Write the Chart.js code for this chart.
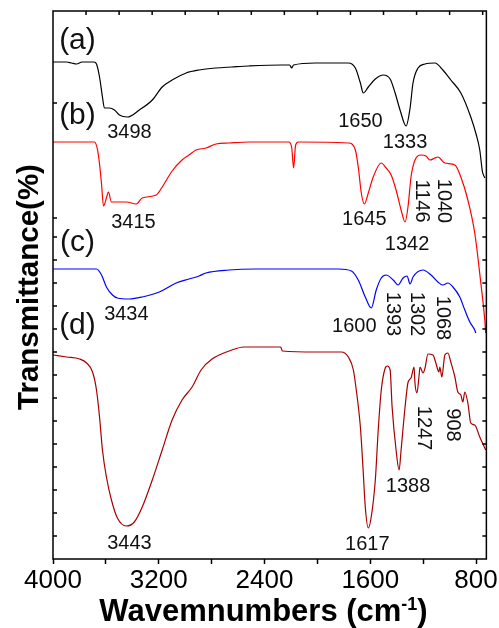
<!DOCTYPE html>
<html>
<head>
<meta charset="utf-8">
<script src="https://cdn.jsdelivr.net/npm/chart.js@4.4.1/dist/chart.umd.min.js"></script>
<style>
body { margin: 0; background: #fff; }
#wrap { position: relative; width: 499px; height: 628px; }
</style>
</head>
<body>
<div id="wrap"><canvas id="ftir"></canvas></div>
<script>
// spectra (wavenumber, transmittance in arbitrary offset units)
const aWave = [4000, 3897, 3860, 3822, 3780, 3690, 3671, 3648, 3626, 3611, 3573, 3535, 3498, 3437, 3347, 3249, 3174, 3099, 2993, 2895, 2767, 2647, 2519, 2270, 2210, 2195, 2180, 2014, 1766, 1713, 1675, 1653, 1615, 1562, 1502, 1450, 1412, 1375, 1329, 1299, 1277, 1239, 1186, 1111, 1051, 991, 915, 840, 800, 772, 752, 734];
const aTrans = [99.4, 99.4, 99.2, 99.0, 99.4, 99.4, 99.0, 96.4, 92.4, 90.2, 90.2, 89.8, 88.8, 88.4, 89.8, 91.8, 94.4, 95.8, 97.2, 97.8, 98.2, 98.4, 98.6, 98.8, 98.8, 98.2, 98.8, 99.2, 99.2, 98.2, 95.2, 93.2, 94.4, 96.0, 96.8, 96.0, 93.2, 89.8, 86.6, 90.2, 95.2, 98.2, 99.0, 99.2, 97.8, 95.8, 93.2, 88.4, 85.0, 81.8, 77.5, 76.2];

const bWave = [4000, 3686, 3663, 3648, 3633, 3618, 3596, 3581, 3558, 3520, 3445, 3370, 3325, 3219, 3174, 3099, 3024, 2971, 2918, 2843, 2767, 2669, 2519, 2218, 2195, 2180, 2165, 2143, 1766, 1713, 1691, 1668, 1645, 1615, 1578, 1517, 1480, 1442, 1405, 1367, 1337, 1314, 1292, 1262, 1217, 1179, 1149, 1111, 1089, 1036, 960, 915, 862, 810, 764, 734, 727];
const bTrans = [83.4, 83.4, 81.8, 79.0, 75.0, 70.6, 72.2, 73.4, 71.4, 71.4, 71.4, 71.0, 72.2, 72.8, 74.4, 77.6, 79.8, 80.8, 81.8, 82.2, 83.0, 83.2, 83.4, 83.4, 82.4, 78.2, 82.8, 83.4, 83.2, 81.8, 78.4, 73.2, 71.0, 73.2, 76.4, 79.2, 78.2, 76.8, 73.8, 69.8, 67.4, 70.6, 76.4, 79.8, 80.8, 80.6, 79.8, 80.2, 80.4, 79.2, 78.8, 76.4, 71.8, 65.2, 55.2, 47.8, 45.2];

const cWave = [4000, 3671, 3633, 3596, 3550, 3513, 3422, 3325, 3196, 3068, 2971, 2895, 2843, 2669, 2466, 1841, 1743, 1691, 1638, 1593, 1555, 1517, 1480, 1427, 1390, 1352, 1322, 1299, 1277, 1201, 1141, 1089, 1051, 1013, 975, 923, 885, 847, 810, 802];
const cTrans = [58.0, 58.0, 56.8, 54.4, 52.8, 52.2, 52.0, 52.4, 53.4, 55.2, 56.0, 56.6, 57.2, 57.8, 58.0, 58.0, 57.6, 55.8, 52.4, 50.2, 53.8, 56.2, 56.8, 55.8, 54.8, 56.2, 56.6, 55.0, 56.4, 57.8, 56.8, 55.4, 54.8, 55.2, 54.4, 52.4, 49.8, 47.4, 45.8, 45.2];

const dWave = [4000, 3897, 3799, 3746, 3701, 3671, 3648, 3626, 3596, 3558, 3513, 3445, 3385, 3325, 3249, 3174, 3099, 3024, 2948, 2880, 2797, 2647, 2557, 2278, 2265, 2014, 1819, 1766, 1728, 1706, 1675, 1653, 1638, 1615, 1593, 1562, 1540, 1517, 1487, 1472, 1450, 1435, 1405, 1382, 1367, 1337, 1314, 1292, 1269, 1262, 1247, 1232, 1224, 1201, 1186, 1164, 1126, 1104, 1081, 1074, 1059, 1036, 1013, 991, 960, 938, 915, 900, 885, 862, 840, 810, 772, 727];
const dTrans = [40.8, 40.4, 40.0, 39.2, 37.4, 33.8, 28.4, 21.8, 16.4, 11.8, 8.2, 6.6, 7.4, 10.4, 15.8, 21.8, 27.8, 31.8, 34.4, 37.8, 40.0, 41.8, 42.4, 42.4, 41.6, 41.4, 41.4, 40.4, 37.8, 33.8, 26.4, 17.2, 10.4, 6.2, 8.4, 15.8, 25.8, 33.8, 38.2, 38.6, 37.8, 30.4, 21.8, 17.8, 21.8, 30.4, 35.4, 36.2, 38.4, 35.2, 33.2, 36.4, 38.4, 37.2, 38.2, 41.0, 40.8, 39.2, 37.4, 38.4, 36.4, 40.8, 41.2, 39.4, 36.4, 33.4, 32.8, 31.4, 33.4, 31.2, 27.2, 26.8, 24.4, 21.8];

// axis ticks
const xTickVals = [4000, 3600, 3200, 2800, 2400, 2000, 1600, 1200, 800];
const topTickVals = [3750, 3500, 3250, 3000, 2750, 2500, 2250, 2000, 1750, 1500, 1250, 1000, 750];
const yTickVals = [4.6, 9.2, 13.8, 18.4, 23, 27.6, 32.2, 36.8, 41.4, 46, 50.6, 55.2, 59.8, 64.4, 68.2, 91.2];

// sample labels and peak labels (text, wavenumber, transmittance, vertical?)
const sampleText = ['(a)', '(b)', '(c)', '(d)'];
const sampleTrans = [103.6, 88.6, 63.2, 46.6];
const peakText = ['3498', '1650', '1333', '3415', '1645', '1342', '1146', '1040', '3434', '1600', '1393', '1302', '1068', '3443', '1617', '1388', '1247', '908'];
const peakWave = [3422, 1675, 1337, 3392, 1645, 1322, 1209, 1043, 3445, 1721, 1435, 1247, 1051, 3422, 1623, 1314, 1201, 975];
const peakTrans = [85.4, 87.6, 83.4, 67.4, 68.0, 63.0, 71.6, 71.6, 49.0, 46.6, 49.0, 49.0, 48.2, 3.2, 3.0, 14.6, 26.2, 26.8];
const peakVertical = [false, false, false, false, false, false, true, true, false, false, true, true, true, false, false, false, true, true];

const seriesColors = ['#000000', '#ff0000', '#0000ff', '#a80000'];

const family = '"Liberation Sans", Arial, sans-serif';
Chart.defaults.font.family = family;

function pairUp(waves, vals) {
    return waves.map((w, i) => ({x: w, y: vals[i]}));
}

const decorations = {
    id: 'decorations',
    afterDraw(chart) {
        const ctx = chart.ctx;
        const area = chart.chartArea;
        const xs = chart.scales.x;
        const ys = chart.scales.y;
        ctx.save();
        ctx.strokeStyle = '#000';
        ctx.lineWidth = 1.5;
        ctx.strokeRect(area.left, area.top, area.right - area.left, area.bottom - area.top);
        ctx.beginPath();
        yTickVals.forEach(v => {
            const y = ys.getPixelForValue(v);
            ctx.moveTo(area.left, y); ctx.lineTo(area.left + 4, y);
            ctx.moveTo(area.right, y); ctx.lineTo(area.right - 4, y);
        });
        topTickVals.forEach(v => {
            const x = xs.getPixelForValue(v);
            ctx.moveTo(x, area.top); ctx.lineTo(x, area.top + 4);
        });
        ctx.stroke();

        ctx.fillStyle = '#111';
        ctx.textAlign = 'center';
        ctx.textBaseline = 'middle';
        ctx.font = '30px ' + family;
        sampleText.forEach((t, i) => {
            ctx.fillText(t, xs.getPixelForValue(3815), ys.getPixelForValue(sampleTrans[i]));
        });
        ctx.font = '20px ' + family;
        peakText.forEach((t, i) => {
            ctx.save();
            ctx.translate(xs.getPixelForValue(peakWave[i]), ys.getPixelForValue(peakTrans[i]));
            if (peakVertical[i]) ctx.rotate(Math.PI / 2);
            ctx.fillText(t, 0, 0);
            ctx.restore();
        });

        // axis titles
        ctx.fillStyle = '#000';
        ctx.save();
        ctx.translate(30, 287);
        ctx.rotate(-Math.PI / 2);
        ctx.font = 'bold 29.5px ' + family;
        ctx.fillText('Transmittance(%)', 0, 0);
        ctx.restore();

        ctx.textAlign = 'left';
        ctx.textBaseline = 'alphabetic';
        ctx.font = 'bold 31px ' + family;
        const main = 'Wavemnumbers (cm';
        const w1 = ctx.measureText(main).width;
        const w3 = ctx.measureText(')').width;
        ctx.font = 'bold 18px ' + family;
        const w2 = ctx.measureText('-1').width;
        let x0 = 263.5 - (w1 + w2 + w3) / 2;
        ctx.font = 'bold 31px ' + family;
        ctx.fillText(main, x0, 621);
        ctx.font = 'bold 18px ' + family;
        ctx.fillText('-1', x0 + w1, 610);
        ctx.font = 'bold 31px ' + family;
        ctx.fillText(')', x0 + w1 + w2, 621);
        ctx.restore();
    }
};

const sets = [[aWave, aTrans], [bWave, bTrans], [cWave, cTrans], [dWave, dTrans]];

new Chart(document.getElementById('ftir'), {
    type: 'line',
    data: {
        datasets: sets.map((s, i) => ({
            label: sampleText[i],
            data: pairUp(s[0], s[1]),
            borderColor: seriesColors[i],
            borderWidth: 1.2,
            pointRadius: 0,
            fill: false,
            cubicInterpolationMode: 'monotone'
        }))
    },
    options: {
        responsive: true,
        maintainAspectRatio: false,
        animation: false,
        layout: { padding: { top: 11, right: 10.5, left: 0, bottom: 0 } },
        plugins: { legend: { display: false }, tooltip: { enabled: false } },
        scales: {
            x: {
                type: 'linear',
                reverse: true,
                min: 722,
                max: 4000,
                afterBuildTicks: s => { s.ticks = xTickVals.map(v => ({value: v})); },
                afterFit: s => { s.height = 69; },
                ticks: {
                    autoSkip: false,
                    maxRotation: 0,
                    color: '#000',
                    padding: 1,
                    font: { size: 26 },
                    callback: v => (v % 800 === 0 ? String(v) : '')
                },
                grid: { drawOnChartArea: false, drawTicks: true, tickLength: 5, tickColor: '#000', tickWidth: 1.5 },
                border: { display: false }
            },
            y: {
                type: 'linear',
                min: 0,
                max: 109.6,
                afterFit: s => { s.width = 53; },
                ticks: { display: false },
                grid: { display: false },
                border: { display: false }
            }
        }
    },
    plugins: [decorations]
});
</script>
</body>
</html>
